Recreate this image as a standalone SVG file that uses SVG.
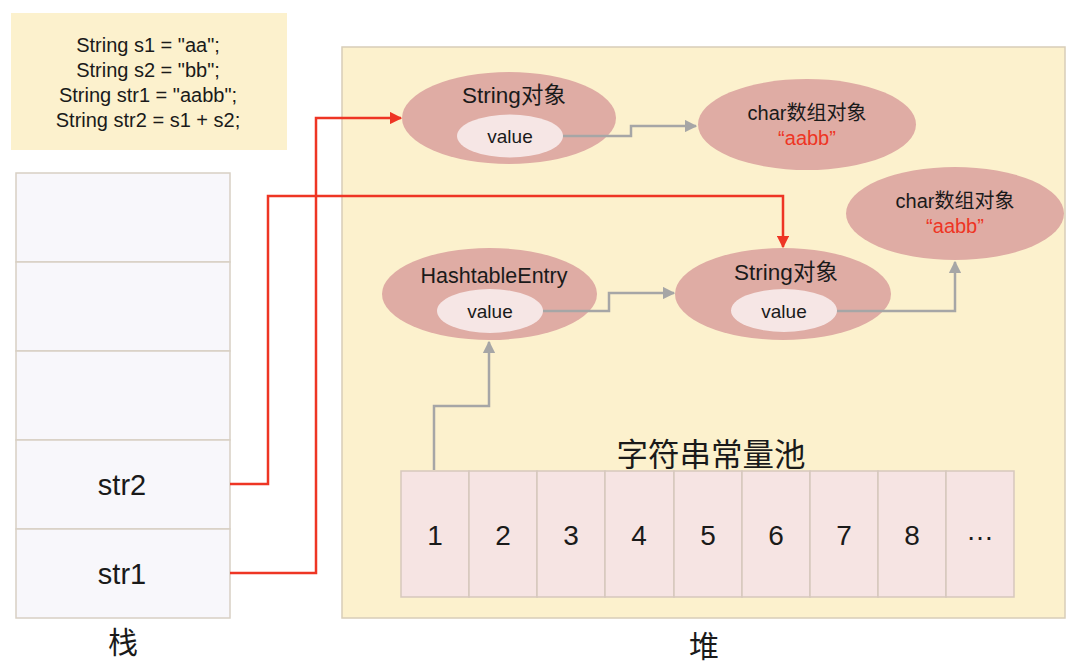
<svg xmlns="http://www.w3.org/2000/svg" width="1080" height="666" viewBox="0 0 1080 666">
<defs>
<style>
text{font-family:"Liberation Sans","Noto Sans CJK SC",sans-serif;fill:#1a1a1a;text-anchor:middle}
.cjk{font-family:"Noto Sans CJK SC",sans-serif}
.code{font-size:20px}
.outer{fill:#dfaca4}
.inner{fill:#f6e6e5}
.title{font-size:22.5px}
.val{font-size:19px}
.chr{font-size:20px}
.red{fill:#ee3524}
.cell{fill:#f6e4e3;stroke:#d6c7bd;stroke-width:1.5}
.stk{fill:#f8f7fb;stroke:#d8cfc4;stroke-width:1.5}
.num{font-size:28px}
.gl{fill:none;stroke:#a6a6a6;stroke-width:2.5}
.rl{fill:none;stroke:#ee3524;stroke-width:2.5}
</style>
<marker id="ag" viewBox="0 0 10 10" refX="9" refY="5" markerWidth="5" markerHeight="5" markerUnits="strokeWidth" orient="auto"><path d="M0,0L10,5L0,10z" fill="#a6a6a6"/></marker>
<marker id="ar" viewBox="0 0 10 10" refX="9" refY="5" markerWidth="5" markerHeight="5" markerUnits="strokeWidth" orient="auto"><path d="M0,0L10,5L0,10z" fill="#ee3524"/></marker>
</defs>
<rect width="1080" height="666" fill="#ffffff"/>
<g id="code">
<rect x="11" y="13" width="276" height="137" fill="#fcf1cd"/>
<text class="code" x="148" y="52">String s1 = "aa";</text>
<text class="code" x="148" y="77">String s2 = "bb";</text>
<text class="code" x="148" y="102">String str1 = "aabb";</text>
<text class="code" x="148" y="127">String str2 = s1 + s2;</text>
</g>
<g id="stack">
<rect class="stk" x="16" y="173" width="214" height="89"/>
<rect class="stk" x="16" y="262" width="214" height="89"/>
<rect class="stk" x="16" y="351" width="214" height="89"/>
<rect class="stk" x="16" y="440" width="214" height="89"/>
<rect class="stk" x="16" y="529" width="214" height="89"/>
<text class="num" style="font-size:29px" x="122" y="495">str2</text>
<text class="num" style="font-size:29px" x="122" y="584">str1</text>
<text class="cjk" style="font-size:30px" x="123" y="653">栈</text>
</g>
<g id="heap">
<rect x="342" y="47" width="723" height="571" fill="#fcf1cd" stroke="#d8cdb8" stroke-width="1.5"/>
<text class="cjk" style="font-size:30px" x="704" y="657">堆</text>
</g>
<g id="string-top">
<ellipse class="outer" cx="509" cy="118" rx="107" ry="46"/>
<text class="title" x="514" y="103">String对象</text>
<ellipse class="inner" cx="510" cy="136" rx="53" ry="21.5"/>
<text class="val" x="510" y="143">value</text>
</g>
<g id="char-top">
<ellipse class="outer" cx="807" cy="124.5" rx="109" ry="45.5"/>
<text class="chr" x="807" y="120">char数组对象</text>
<text class="chr red" x="807" y="145">“aabb”</text>
</g>
<g id="char-right">
<ellipse class="outer" cx="955" cy="213.5" rx="109" ry="46.5"/>
<text class="chr" x="955" y="208">char数组对象</text>
<text class="chr red" x="955" y="233">“aabb”</text>
</g>
<g id="hashtable-entry">
<ellipse class="outer" cx="489.5" cy="294" rx="107.5" ry="46"/>
<text class="title" style="font-size:21.5px" x="494" y="283">HashtableEntry</text>
<ellipse class="inner" cx="490" cy="311" rx="53" ry="22"/>
<text class="val" x="490" y="318">value</text>
</g>
<g id="string-mid">
<ellipse class="outer" cx="783" cy="294" rx="108" ry="46"/>
<text class="title" x="786" y="280">String对象</text>
<ellipse class="inner" cx="784" cy="310.5" rx="53" ry="21.5"/>
<text class="val" x="784" y="318">value</text>
</g>
<g id="pool">
<text class="cjk" style="font-size:31.5px" x="711" y="466">字符串常量池</text>
<rect class="cell" x="401" y="471" width="68" height="126"/>
<rect class="cell" x="469" y="471" width="68" height="126"/>
<rect class="cell" x="537" y="471" width="68" height="126"/>
<rect class="cell" x="605" y="471" width="69" height="126"/>
<rect class="cell" x="674" y="471" width="68" height="126"/>
<rect class="cell" x="742" y="471" width="68" height="126"/>
<rect class="cell" x="810" y="471" width="68" height="126"/>
<rect class="cell" x="878" y="471" width="68" height="126"/>
<rect class="cell" x="946" y="471" width="68" height="126"/>
<text class="num" x="435" y="545">1</text>
<text class="num" x="503" y="545">2</text>
<text class="num" x="571" y="545">3</text>
<text class="num" x="639" y="545">4</text>
<text class="num" x="708" y="545">5</text>
<text class="num" x="776" y="545">6</text>
<text class="num" x="844" y="545">7</text>
<text class="num" x="912" y="545">8</text>
<text class="num" x="980" y="540">…</text>
</g>
<g id="connectors">
<path class="gl" d="M563,136H631V126H696" marker-end="url(#ag)"/>
<path class="gl" d="M543,311H609V293H674" marker-end="url(#ag)"/>
<path class="gl" d="M837,311H955V262" marker-end="url(#ag)"/>
<path class="gl" d="M434,470V406H489V342" marker-end="url(#ag)"/>
<path class="rl" d="M230,573H316V118H401" marker-end="url(#ar)"/>
<path class="rl" d="M230,484H268V196H783V247" marker-end="url(#ar)"/>
</g>
</svg>
